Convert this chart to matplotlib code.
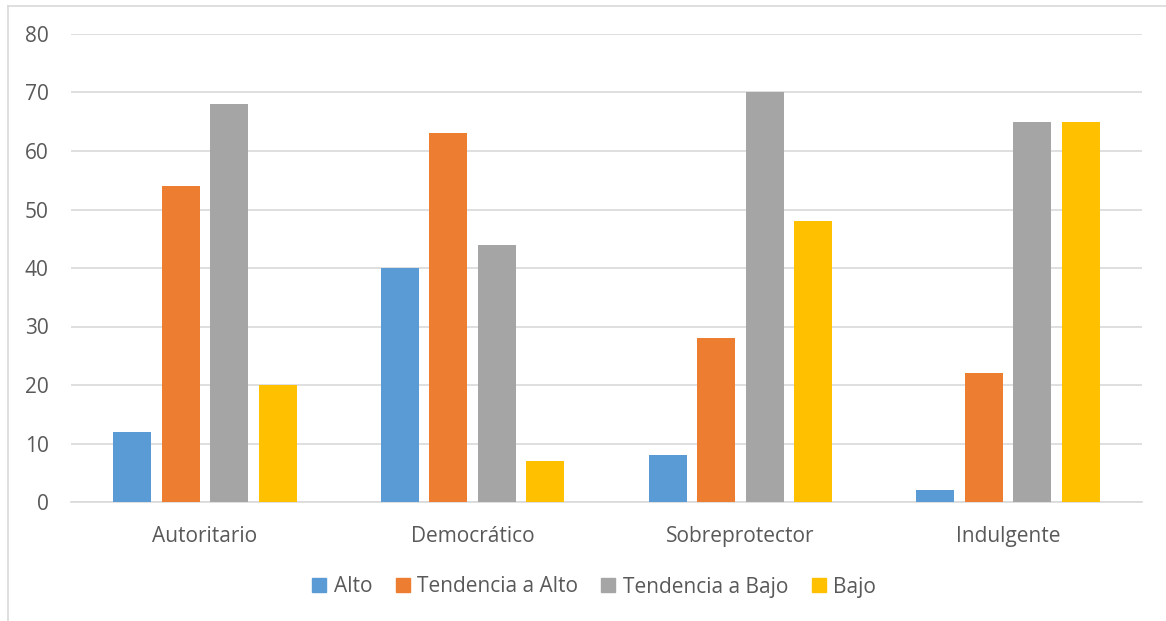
import matplotlib
matplotlib.use("Agg")
import matplotlib.pyplot as plt
import numpy as np
from matplotlib.lines import Line2D

categories = ["Autoritario", "Democrático", "Sobreprotector", "Indulgente"]
series_names = ["Alto", "Tendencia a Alto", "Tendencia a Bajo", "Bajo"]
alto = [12, 40, 8, 2]
tend_alto = [54, 63, 28, 22]
tend_bajo = [68, 44, 70, 65]
bajo = [20, 7, 48, 65]
colors = ["#5B9BD5", "#ED7D31", "#A5A5A5", "#FFC000"]
yticks = [0, 10, 20, 30, 40, 50, 60, 70, 80]

plt.rcParams['font.family'] = ['Open Sans', 'DejaVu Sans']
FS = 15

W, H = 1166, 621
fig = plt.figure(figsize=(W / 100, H / 100), dpi=100)
ax = fig.add_axes([71 / W, 1 - 502 / H, (1142 - 71) / W, (502 - 34) / H])

x = np.arange(len(categories))
bw = 0.142
step = 0.181
data = [alto, tend_alto, tend_bajo, bajo]
for i, (vals, name, c) in enumerate(zip(data, series_names, colors)):
    ax.bar(x + (i - 1.5) * step, vals, width=bw, color=c, label=name, zorder=3)

ax.set_xlim(-0.5, len(categories) - 0.5)
ax.set_ylim(0, 80)
ax.set_yticks(yticks)
ax.set_xticks(x)
ax.set_xticklabels(categories)
ax.grid(axis='y', color='#D9D9D9', linewidth=1.2, zorder=0)
for s in ['top', 'right', 'left']:
    ax.spines[s].set_visible(False)
ax.spines['bottom'].set_color('#D9D9D9')
ax.spines['bottom'].set_linewidth(1.2)
ax.tick_params(axis='both', length=0, labelsize=FS, colors='#595959')
ax.tick_params(axis='y', pad=16)
ax.tick_params(axis='x', pad=17)

handles = [Line2D([], [], marker='s', linestyle='none', markersize=10,
                  markerfacecolor=c, markeredgecolor=c) for c in colors]
fig.legend(handles, series_names, loc='center', bbox_to_anchor=(593 / W, 1 - 587 / H),
           ncol=4, frameon=False, fontsize=FS, labelcolor='#595959',
           handletextpad=0.25, columnspacing=1.0, handlelength=0.9)

# chart border (left and top visible)
fig.add_artist(Line2D([7.5 / W, 7.5 / W], [0, 1 - 5.5 / H], color='#D9D9D9', linewidth=1.2,
                      transform=fig.transFigure))
fig.add_artist(Line2D([7.5 / W, 1], [1 - 5.5 / H, 1 - 5.5 / H], color='#D9D9D9', linewidth=1.2,
                      transform=fig.transFigure))

fig.savefig("out.png", dpi=100)
